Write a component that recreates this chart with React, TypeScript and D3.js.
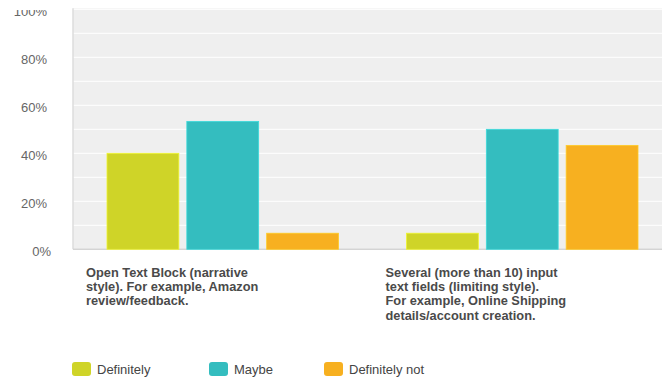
import React from "react";
import * as d3 from "d3";

const categories = [
  ["Open Text Block (narrative", "style). For example, Amazon", "review/feedback."],
  ["Several (more than 10) input", "text fields (limiting style).", "For example, Online Shipping", "details/account creation."],
];
const seriesNames = ["Definitely", "Maybe", "Definitely not"];
const seriesColors = ["#cfd428", "#34bdbf", "#f7b020"];
const definitelyValues = [40, 6.7];
const maybeValues = [53.3, 50];
const definitelyNotValues = [6.7, 43.3];
const yTicks = [0, 20, 40, 60, 80, 100];
const gridTicks = [0, 10, 20, 30, 40, 50, 60, 70, 80, 90, 100];

const W = 662;
const H = 379;
const left = 73;
const right = 672;
const top = 9.3;
const bottom = 249.3;

export default function App() {
  const seriesValues = [definitelyValues, maybeValues, definitelyNotValues];
  const catKeys = categories.map((_, i) => String(i));
  const x0 = d3.scaleBand<string>().domain(catKeys).range([left, right]).padding(0);
  const x1 = d3
    .scaleBand<string>()
    .domain(seriesNames)
    .range([34, x0.bandwidth() - 34])
    .paddingInner(0.1);
  const y = d3.scaleLinear().domain([0, 100]).range([bottom, top]);
  const legendX = [72, 209, 324];

  return (
    <svg
      width={W}
      height={H}
      style={{ position: "absolute", left: 0, top: 0, background: "#fff" }}
      fontFamily="'Liberation Sans', Arial, Helvetica, sans-serif"
    >
      <defs>
        <clipPath id="tickclip">
          <rect x={0} y={10} width={left} height={H} />
        </clipPath>
      </defs>
      <rect x={left} y={top - 1} width={W - left} height={bottom - top + 1} fill="#efefef" />
      {gridTicks.map((t) => (
        <line key={t} x1={left} x2={W} y1={y(t)} y2={y(t)} stroke="#ffffff" strokeWidth={1} />
      ))}
      <line x1={left} x2={left} y1={top - 1} y2={bottom} stroke="#dcdcdc" strokeWidth={1.5} />
      <line x1={left} x2={W} y1={bottom} y2={bottom} stroke="#d4d4d4" strokeWidth={1.5} />
      {catKeys.map((k, ci) =>
        seriesNames.map((s, si) => {
          const v = seriesValues[si][ci];
          const bx = (x0(k) as number) + (x1(s) as number);
          return (
            <rect
              key={k + s}
              x={bx}
              y={y(v)}
              width={x1.bandwidth()}
              height={bottom - y(v)}
              fill={seriesColors[si]}
              stroke={d3.color(seriesColors[si])!.brighter(0.4).toString()}
              strokeWidth={0.8}
            />
          );
        })
      )}
      <g clipPath="url(#tickclip)">
        {yTicks.map((t) => (
          <text
            key={t}
            x={t === 0 ? 51 : 47}
            y={y(t) + 7}
            textAnchor="end"
            fontSize={13}
            fill="#666"
          >
            {t}%
          </text>
        ))}
      </g>
      {categories.map((lines, ci) => (
        <text
          key={ci}
          x={(x0(String(ci)) as number) + 13}
          y={277}
          fontSize={12.8}
          fontWeight="bold"
          fill="#4a4a4a"
        >
          {lines.map((ln, li) => (
            <tspan key={li} x={(x0(String(ci)) as number) + 13} dy={li === 0 ? 0 : 14.2}>
              {ln}
            </tspan>
          ))}
        </text>
      ))}
      {seriesNames.map((s, i) => (
        <g key={s}>
          <rect x={legendX[i]} y={362} width={19} height={14} rx={3} fill={seriesColors[i]} />
          <text x={legendX[i] + 25} y={373.5} fontSize={13} fill="#444">
            {s}
          </text>
        </g>
      ))}
    </svg>
  );
}
